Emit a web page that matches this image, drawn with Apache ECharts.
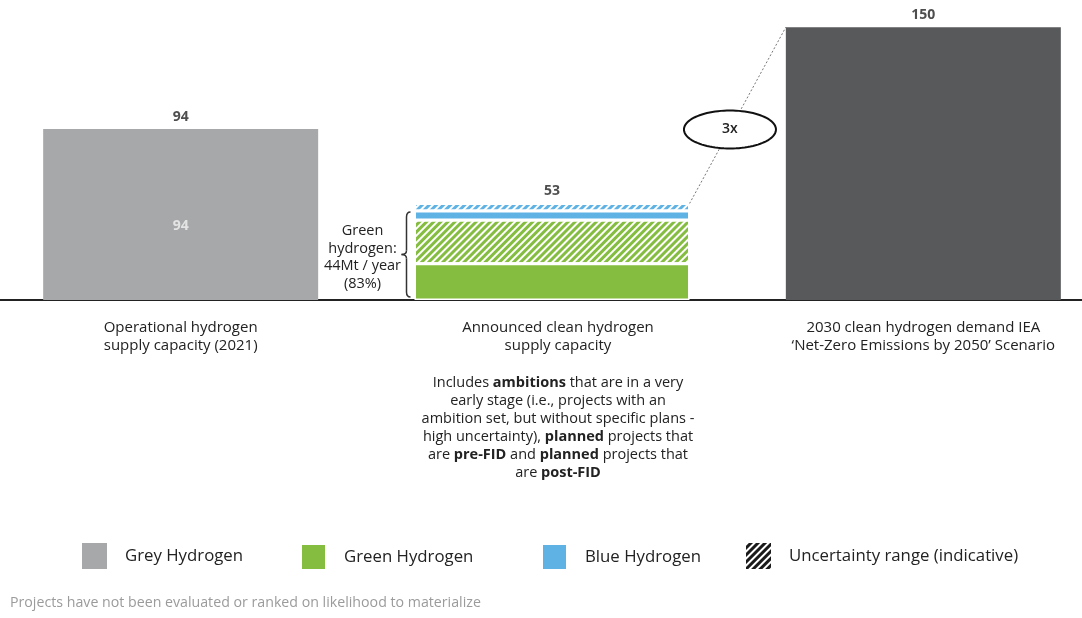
<!DOCTYPE html>
<html><head><meta charset="utf-8">
<script src="https://cdn.jsdelivr.net/npm/echarts@6/dist/echarts.min.js"></script>
<style>html,body{margin:0;padding:0;background:#fff}#c{width:1082px;height:618px}</style>
</head><body><div id="c"></div>
<script>
const categories = ['Operational hydrogen\nsupply capacity (2021)', 'Announced clean hydrogen\nsupply capacity', '2030 clean hydrogen demand IEA\n\u2018Net-Zero Emissions by 2050\u2019 Scenario'];
const greyHydrogen = [94, '-', '-'];
const greenHydrogen = ['-', 20, '-'];
const greenUncertainty = ['-', 24, '-'];
const blueHydrogen = ['-', 5, '-'];
const blueUncertainty = ['-', 4, '-'];
const demand2030 = ['-', '-', 150];
const totals = [94, 53, 150];
const greenTotal = 44;
const greenNote = 'Green\nhydrogen:\n44Mt / year\n(83%)';
const multiplierText = '3x';
const legendNames = ['Grey Hydrogen', 'Green Hydrogen', 'Blue Hydrogen', 'Uncertainty range (indicative)'];
const footnote = 'Projects have not been evaluated or ranked on likelihood to materialize';

const FONT = '"Open Sans", "Noto Sans", sans-serif';
const C_GREY = '#a7a8aa', C_GREEN = '#84bd3f', C_BLUE = '#5fb3e4', C_DARK = '#58595b';
const BW = 275;
const hatch = (c) => ({ symbol: 'rect', symbolSize: 1, dashArrayX: [1, 0], dashArrayY: [1.6, 2.6], rotation: -Math.PI / 4, color: c });

const chart = echarts.init(document.getElementById('c'), null, { renderer: 'canvas' });
const legendBase = { padding: 0, top: 543, icon: 'rect', itemWidth: 25, itemHeight: 26, selectedMode: false,
  textStyle: { fontFamily: FONT, fontSize: 16.8, color: '#222', padding: [0, 0, 0, 13] } };
const seg = { type: 'bar', stack: 'total', barWidth: BW, silent: true };
chart.setOption({
  animation: false,
  backgroundColor: '#fff',
  grid: { left: -5, right: -27, top: 9, bottom: 318, outerBoundsMode: 'none', containLabel: false },
  xAxis: { type: 'category', data: categories,
    axisLine: { lineStyle: { color: '#222', width: 2 } }, axisTick: { show: false },
    axisLabel: { margin: 18, fontFamily: FONT, fontSize: 15, color: '#222', lineHeight: 18.5,
      formatter: (v, i) => i === 1 ? v.split('\n').map(s => `{m|${s}}`).join('\n') : v,
      rich: { m: { fontFamily: FONT, fontSize: 15, color: '#222', lineHeight: 18.5, padding: [0, 0, 0, 12] } } } },
  yAxis: { type: 'value', min: 0, max: 160, show: false, splitLine: { show: false } },
  legend: [
    Object.assign({}, legendBase, { data: [legendNames[0]], left: 82 }),
    Object.assign({}, legendBase, { data: [legendNames[1]], left: 300 }),
    Object.assign({}, legendBase, { data: [legendNames[2]], left: 541 }),
    Object.assign({}, legendBase, { data: [legendNames[3]], left: 746 })
  ],
  series: [
    Object.assign({}, seg, { name: 'Grey Hydrogen', data: greyHydrogen, itemStyle: { color: C_GREY },
      label: { show: true, position: 'inside', offset: [0, 11], color: '#e4e4e4', fontFamily: FONT, fontSize: 14, fontWeight: 'bold' } }),
    Object.assign({}, seg, { name: 'Green Hydrogen', data: greenHydrogen, itemStyle: { color: C_GREEN, borderColor: '#fff', borderWidth: 1.5 } }),
    Object.assign({}, seg, { name: 'Green Hydrogen (uncertainty)', data: greenUncertainty, itemStyle: { color: C_GREEN, borderColor: '#fff', borderWidth: 1.5, decal: hatch('#fff') } }),
    Object.assign({}, seg, { name: 'Blue Hydrogen', data: blueHydrogen, itemStyle: { color: C_BLUE, borderColor: '#fff', borderWidth: 1.5 } }),
    Object.assign({}, seg, { name: 'Blue Hydrogen (uncertainty)', data: blueUncertainty, itemStyle: { color: C_BLUE, borderColor: '#fff', borderWidth: 1.5, decal: hatch('#fff') } }),
    Object.assign({}, seg, { name: '2030 demand', data: demand2030, itemStyle: { color: C_DARK } }),
    Object.assign({}, seg, { name: 'Uncertainty range (indicative)', data: [], itemStyle: { color: '#1a1a1a', decal: hatch('#fff') } }),
    { type: 'scatter', name: 'Total', data: totals, symbolSize: 1, silent: true, itemStyle: { color: 'rgba(0,0,0,0)' },
      label: { show: true, position: 'top', distance: 5, fontFamily: FONT, fontSize: 14, fontWeight: 'bold', color: '#222' } }
  ]
});

// annotations positioned from data through the axes
const p = (c, v) => chart.convertToPixel({ gridIndex: 0 }, [c, v]);
const midTop = p(1, totals[1]), darkTop = p(2, totals[2]);
const base1 = p(1, 0), g44 = p(1, greenTotal);
const leftEdge = base1[0] - BW / 2;
const bx = leftEdge - 4, bxi = bx - 4, tip = bx - 9;
const y0 = g44[1] - 8, y1 = base1[1] - 3, ym = (y0 + y1) / 2;
const braceStyle = { fill: 'none', stroke: '#333', lineWidth: 1.5 };
const braceParts = [
  { type: 'bezierCurve', shape: { x1: bx, y1: y0, cpx1: bxi, cpy1: y0, x2: bxi, y2: y0 + 5 } },
  { type: 'line', shape: { x1: bxi, y1: y0 + 5, x2: bxi, y2: ym - 4 } },
  { type: 'bezierCurve', shape: { x1: bxi, y1: ym - 4, cpx1: bxi, cpy1: ym, x2: tip, y2: ym } },
  { type: 'bezierCurve', shape: { x1: tip, y1: ym, cpx1: bxi, cpy1: ym, x2: bxi, y2: ym + 4 } },
  { type: 'line', shape: { x1: bxi, y1: ym + 4, x2: bxi, y2: y1 - 5 } },
  { type: 'bezierCurve', shape: { x1: bxi, y1: y1 - 5, cpx1: bxi, cpy1: y1, x2: bx, y2: y1 } }
].map(e => Object.assign(e, { style: braceStyle, silent: true }));

const lx0 = midTop[0] + BW / 2, ly0 = midTop[1];
const lx1 = darkTop[0] - BW / 2, ly1 = darkTop[1];
const t = 0.42;
const ex = lx0 + (lx1 - lx0) * t, ey = ly0 + (ly1 - ly0) * t;
const rx = 46, ry = 19;
const ellPts = [];
for (let i = 0; i < 96; i++) { const a = i / 96 * Math.PI * 2; ellPts.push([ex + rx * Math.cos(a), ey + ry * Math.sin(a)]); }

const desc = '{n|Includes }{b|ambitions}{n| that are in a very}\n{n|early stage (i.e., projects with an}\n{n|ambition set, but without specific plans -}\n{n|high uncertainty), }{b|planned}{n| projects that}\n{n|are }{b|pre-FID}{n| and }{b|planned}{n| projects that}\n{n|are }{b|post-FID}';

chart.setOption({
  graphic: braceParts.concat([
    { type: 'text', x: leftEdge - 52, y: ym + 3, silent: true,
      style: { text: greenNote, font: `14.5px ${FONT}`, fill: '#222', align: 'center', verticalAlign: 'middle', lineHeight: 17.5 } },
    { type: 'line', shape: { x1: lx0, y1: ly0, x2: lx1, y2: ly1 }, silent: true, style: { stroke: '#777', lineWidth: 1, lineDash: [2, 2] } },
    { type: 'polygon', shape: { points: ellPts }, silent: true, style: { fill: '#fff', stroke: '#111', lineWidth: 2 } },
    { type: 'text', x: ex, y: ey, silent: true, style: { text: multiplierText, font: `600 14px ${FONT}`, fill: '#222', align: 'center', verticalAlign: 'middle' } },
    { type: 'text', x: base1[0] + 6, y: 374, silent: true,
      style: { text: desc, align: 'center', verticalAlign: 'top', fill: '#222',
        rich: { n: { fontFamily: FONT, fontSize: 14.5, lineHeight: 18, color: '#222' },
                b: { fontFamily: FONT, fontSize: 14.5, lineHeight: 18, color: '#111', fontWeight: 'bold' } } } },
    { type: 'text', x: 10, y: 603, silent: true, style: { text: footnote, font: `14.2px ${FONT}`, fill: '#9b9b9b', verticalAlign: 'middle' } }
  ])
});
</script></body></html>
